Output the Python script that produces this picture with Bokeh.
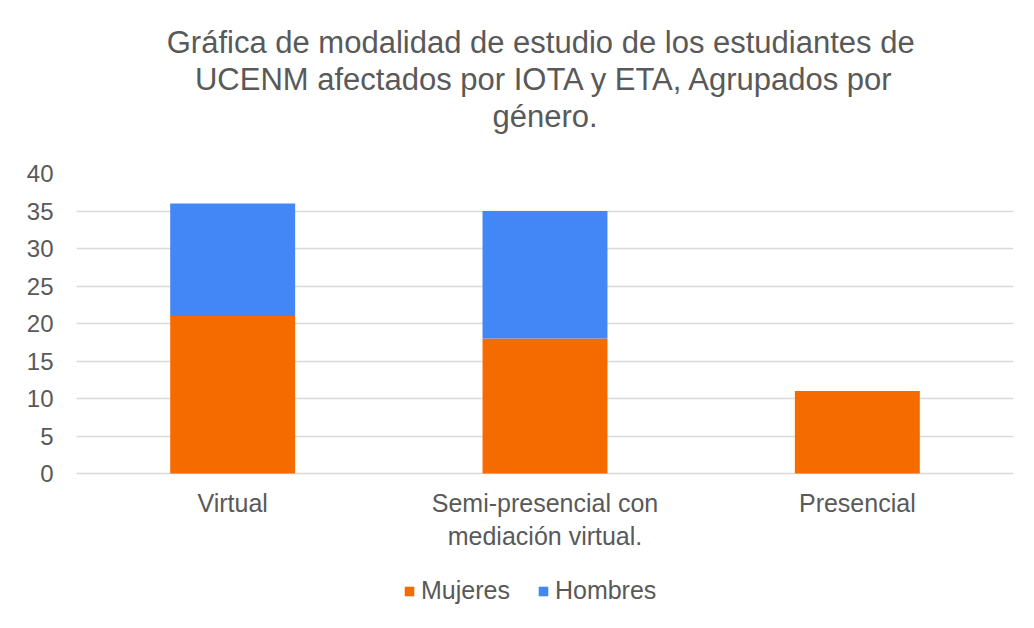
from bokeh.plotting import figure
from bokeh.models import FactorRange, Range1d, FixedTicker, Legend, LegendItem, Title
from bokeh.embed import file_html
from bokeh.resources import INLINE

categories = ["Virtual", "Semi-presencial con\nmediación virtual.", "Presencial"]
series_names = ["Mujeres", "Hombres"]
mujeres = [21, 18, 11]
hombres = [15, 17, 0]
y_ticks = [0, 5, 10, 15, 20, 25, 30, 35, 40]
title_lines = ["Gráfica de modalidad  de estudio de los estudiantes de",
               "UCENM afectados por IOTA y ETA, Agrupados por",
               "género."]

colors = ["#F56B00", "#4287F5"]
text_color = "#595959"
font = "Liberation Sans"

source = dict(cat=categories, Mujeres=mujeres, Hombres=hombres)

# frame extends below zero to hold category labels and legend (7.5 px per unit)
px_per_unit = 7.5
below_px = 139
frame_h = 439

p = figure(
    frame_width=937, frame_height=frame_h,
    x_range=FactorRange(factors=categories),
    y_range=Range1d(-below_px / px_per_unit, 40),
    output_backend="svg", toolbar_location=None,
    min_border_left=76, min_border_right=13,
    min_border_top=173, min_border_bottom=8,
    title=None,
)

renderers = p.vbar_stack(series_names, x="cat", width=0.4, color=colors,
                         line_color=None, source=source)

# spacer between title and plot area
p.add_layout(Title(text=" ", text_font=font, text_font_size="34px", standoff=0), "above")
for line in reversed(title_lines):
    t = Title(text=line, align="center", text_font=font, text_font_size="31px",
              text_font_style="normal", text_color=text_color, standoff=0)
    p.add_layout(t, "above")

p.outline_line_color = None
p.xgrid.grid_line_color = None
p.ygrid.grid_line_color = "#D9D9D9"
p.ygrid.grid_line_width = 1.5
p.yaxis.ticker = FixedTicker(ticks=y_ticks)

for ax in (p.xaxis[0], p.yaxis[0]):
    ax.axis_line_color = None
    ax.major_tick_line_color = None
    ax.minor_tick_line_color = None
    ax.major_tick_out = 0
    ax.major_tick_in = 0
    ax.major_label_text_font = font
    ax.major_label_text_color = text_color

p.yaxis.major_label_text_font_size = "24px"
p.yaxis.major_label_standoff = 23
p.xaxis.major_label_text_font_size = "25px"
p.xaxis.major_label_standoff = 15
p.xaxis.fixed_location = 0

legend = Legend(
    items=[LegendItem(label=n, renderers=[r]) for n, r in zip(series_names, renderers)],
    orientation="horizontal", location=(327, 7),
    label_text_font=font, label_text_font_size="25px", label_text_color=text_color,
    glyph_width=12, glyph_height=12, spacing=27, label_standoff=6,
    border_line_color=None, background_fill_alpha=0,
    margin=0, padding=0,
)
p.add_layout(legend, "center")

open("out.html", "w").write(file_html(p, INLINE))
